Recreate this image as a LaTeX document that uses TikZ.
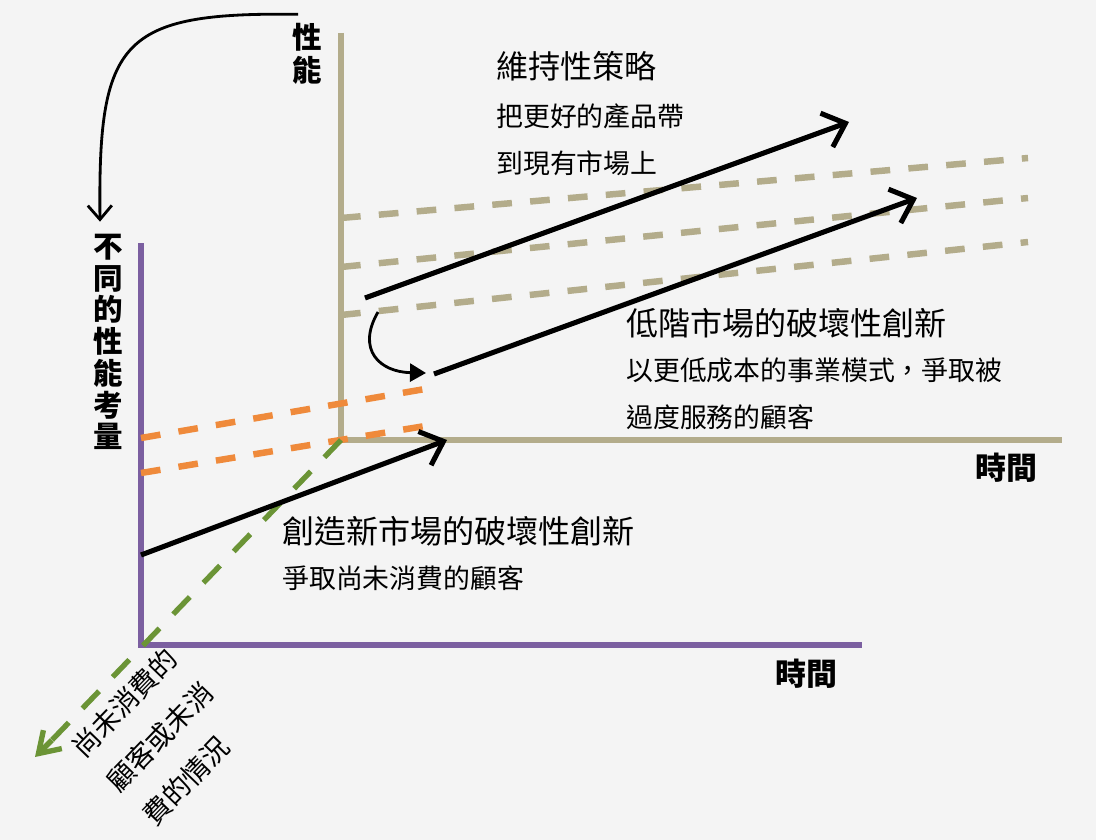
\documentclass[tikz,border=0pt]{standalone}
\usepackage{fontspec}
\setmainfont{Noto Sans CJK TC}
\usetikzlibrary{arrows.meta}
\definecolor{axistan}{HTML}{B3AC8B}
\definecolor{axispurple}{HTML}{7B5FA0}
\definecolor{loworange}{HTML}{EF8A3B}
\definecolor{newgreen}{HTML}{6B9436}
\definecolor{paper}{HTML}{F4F4F4}

\begin{document}
\begin{tikzpicture}[
    x=0.025cm,y=-0.025cm,
    axis/.style={line width=4.3pt},
    level/.style={line width=4.6pt,dash pattern=on 14pt off 13pt},
    move/.style={-{Straight Barb[length=5mm,width=9mm]},line width=3.6pt},
    bendarrow/.style={line width=2pt},
    head/.style={font=\fontsize{22.8}{26}\selectfont,inner sep=0pt,anchor=west},
    sub/.style={font=\fontsize{19.1}{22}\selectfont,inner sep=0pt,anchor=west},
    axlabel/.style={font=\fontsize{22}{26}\selectfont\bfseries,inner sep=0pt}
  ]
    \fill[paper] (0,0) rectangle (1096,840);
    \useasboundingbox (0,0) rectangle (1096,840);

    % axes
    \coordinate (tanO) at (341,440);
    \coordinate (purO) at (141,645);
    \draw[axis,axistan] (341,33) -- (tanO) -- (1062,440);
    \draw[axis,axispurple] (141,243) -- (purO) -- (862,645);

    % performance levels demanded
    \draw[level,axistan] (341,218) -- (1028,158);
    \draw[level,axistan] (341,267) -- (1028,198);
    \draw[level,axistan] (341,315) -- (1028,242);
    \draw[level,loworange] (141,438) -- (425,389);
    \draw[level,loworange] (141,473) -- (425,426);
    \coordinate (nonpre) at (52,740);
    \coordinate (nonend) at (35,757);
    \draw[line width=3.8pt,newgreen,dash pattern=on 17pt off 14pt] (tanO) -- (nonpre);
    \draw[line width=3.8pt,newgreen,-{Straight Barb[length=5mm,width=6.5mm]}] (nonpre) -- (nonend);

    % product trajectories
    \coordinate (sus0) at (365,298);
    \coordinate (sus1) at (849,122);
    \coordinate (low0) at (434,374);
    \coordinate (low1) at (917,198);
    \coordinate (new0) at (141,555);
    \coordinate (new1) at (447,440);
    \draw[move] (sus0) -- (sus1);
    \draw[move] (low0) -- (low1);
    \draw[move] (new0) -- (new1);
    \coordinate (drop0) at (378,312);
    \coordinate (drop1) at (426,373);
    \draw[bendarrow,-{Triangle[length=4mm,width=4.5mm]}]
      (drop0) .. controls (356,350) and (380,372) .. (drop1);

    % labels
    \node[axlabel,align=center,font=\fontsize{21}{23.5}\selectfont\bfseries] (perf) at (307,54) {性\\能};
    \node[axlabel,align=center,font=\fontsize{21}{22.6}\selectfont\bfseries] (diffperf) at (108,342)
      {不\\同\\的\\性\\能\\考\\量};
    \node[axlabel] (time1) at (1006,468) {時間};
    \node[axlabel] (time2) at (806,674) {時間};
    \draw[bendarrow,-{Straight Barb[length=3.5mm,width=6mm]}]
      ([xshift=-0.22cm,yshift=0.22cm]perf.north) .. controls (120,12) and (98,40)
      .. ([xshift=-0.2cm,yshift=0.3cm]diffperf.north);

    \node[head] (sust) at (496,66) {維持性策略};
    \node[sub] (sust1) at (496,116) {把更好的產品帶};
    \node[sub] (sust2) at (496,163) {到現有市場上};

    \node[head] (lowend) at (626,323) {低階市場的破壞性創新};
    \node[sub] (lowend1) at (626,370) {以更低成本的事業模式，爭取被};
    \node[sub] (lowend2) at (626,417) {過度服務的顧客};

    \node[head] (newmkt) at (282,531) {創造新市場的破壞性創新};
    \node[sub] (newmkt1) at (282,578) {爭取尚未消費的顧客};

    \node[font=\fontsize{19.5}{35}\selectfont,inner sep=0pt,align=left,rotate=46]
      (nonuse) at (160,737) {尚未消費的\\顧客或未消\\費的情況};
  \end{tikzpicture}
\end{document}
